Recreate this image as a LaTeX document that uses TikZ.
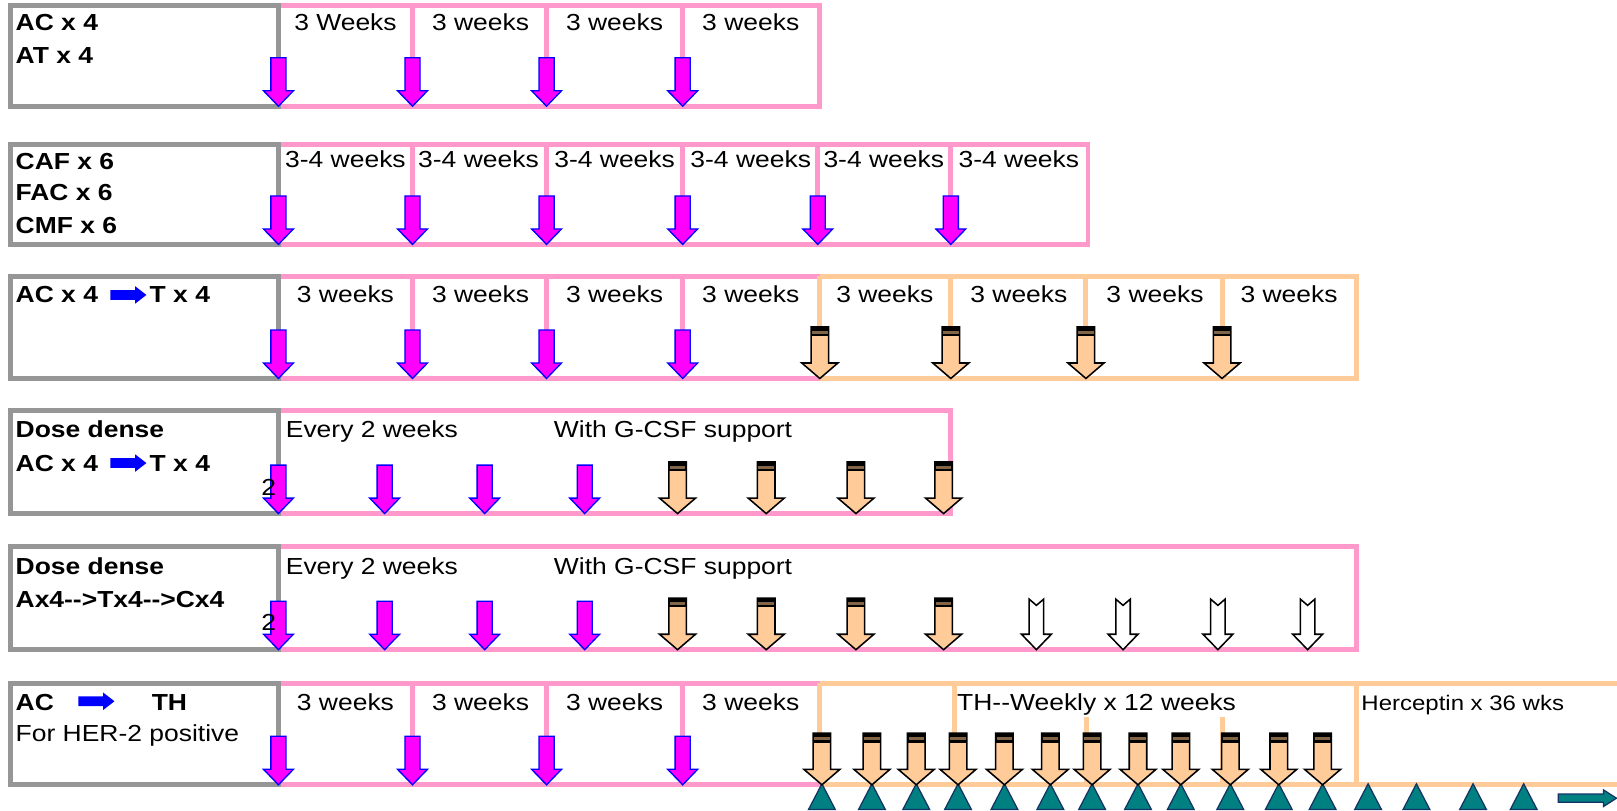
\documentclass[tikz,border=0pt]{standalone}
\usepackage{fontspec}
\setmainfont{Liberation Sans}[FakeStretch=1.14]
\definecolor{pinkc}{RGB}{255,153,204}
\definecolor{grayc}{RGB}{150,150,150}
\definecolor{orangec}{RGB}{255,204,153}
\definecolor{magc}{RGB}{255,0,255}
\definecolor{brownc}{RGB}{130,100,70}
\definecolor{tealc}{RGB}{0,128,128}
\definecolor{navyc}{RGB}{20,50,100}
\tikzset{
  marr/.pic={\draw[fill=magc,draw=blue,line width=1.3pt] (-7.3,-47) -- (7.3,-47) -- (7.3,-15) -- (14.5,-15) -- (0,0) -- (-14.5,-15) -- (-7.3,-15) -- cycle;},
  oarr/.pic={\draw[fill=orangec,draw=black,line width=1.5pt] (-8.5,-50) -- (8.5,-50) -- (8.5,-15) -- (17.5,-15) -- (0,0) -- (-17.5,-15) -- (-8.5,-15) -- cycle;
    \fill[black] (-8.5,-50) rectangle (8.5,-41);
    \fill[brownc] (-7.5,-46) rectangle (7.5,-43.5);},
  warr/.pic={\draw[fill=white,draw=black,line width=1.5pt] (-7,-49) -- (0,-43) -- (7,-49) -- (7,-15) -- (14.5,-15) -- (0,0) -- (-14.5,-15) -- (-7,-15) -- cycle;},
  tri/.pic={\draw[fill=tealc,draw=navyc,line width=1.2pt] (0,0) -- (13,25) -- (-13,25) -- cycle;},
  barr/.pic={\fill[blue] (0,-4.7) -- (24,-4.7) -- (24,-8.5) -- (35,0) -- (24,8.5) -- (24,4.7) -- (0,4.7) -- cycle;},
}
\begin{document}
\begin{tikzpicture}[x=1pt,y=-1pt,
  gbox/.style={draw=grayc,line width=4.8pt},
  pline/.style={draw=pinkc,line width=4.8pt},
  oline/.style={draw=orangec,line width=4.8pt},
  lbl/.style={inner sep=0pt,font=\fontsize{22.5}{27}\selectfont},
  blbl/.style={inner sep=0pt,font=\fontsize{22.5}{27}\selectfont\bfseries},
  slbl/.style={inner sep=0pt,font=\fontsize{20.4}{24}\selectfont},
]
\useasboundingbox (0,0) rectangle (1568,785.5);
\fill[white] (0,0) rectangle (1568,785.5);

% ---------- Row 1
\draw[pline] (270,5.6) -- (795,5.6) -- (795,103) -- (270,103);
\draw[gbox] (10,5.6) rectangle (270,103);
\foreach \x in {400,530,662} \draw[pline] (\x,5.6) -- (\x,57);
\foreach \x in {270,400,530,662} \pic at (\x,103) {marr};
\node[blbl,anchor=base west] (r1a) at (15,30) {AC x 4};
\node[blbl,anchor=base west] (r1b) at (15,61.5) {AT x 4};
\node[lbl,anchor=base] (r1w1) at (335,30) {3 Weeks};
\node[lbl,anchor=base] (r1w2) at (466,30) {3 weeks};
\node[lbl,anchor=base] (r1w3) at (596,30) {3 weeks};
\node[lbl,anchor=base] (r1w4) at (728,30) {3 weeks};

% ---------- Row 2
\draw[pline] (270,140) -- (1055,140) -- (1055,237) -- (270,237);
\draw[gbox] (10,140) rectangle (270,237);
\foreach \x in {400,530,662,793,922} \draw[pline] (\x,140) -- (\x,190);
\foreach \x in {270,400,530,662,793,922} \pic at (\x,237) {marr};
\node[blbl,anchor=base west] (r2a) at (15,164) {CAF x 6};
\node[blbl,anchor=base west] (r2b) at (15,194) {FAC x 6};
\node[blbl,anchor=base west] (r2c) at (15,226) {CMF x 6};
\foreach \x/\n in {335/1,464/2,596/3,728/4,857/5,988/6}
  \node[lbl,anchor=base] (r2w\n) at (\x,162.5) {3-4 weeks};

% ---------- Row 3
\draw[pline] (270,268) -- (795,268);
\draw[pline] (270,367) -- (795,367);
\draw[oline] (795,268) -- (1315,268) -- (1315,367) -- (795,367);
\draw[gbox] (10,268) rectangle (270,367);
\foreach \x in {400,530,662} \draw[pline] (\x,268) -- (\x,320);
\foreach \x in {795,922,1053,1185} \draw[oline] (\x,268) -- (\x,318);
\foreach \x in {270,400,530,662} \pic at (\x,367) {marr};
\foreach \x in {795,922,1053,1185} \pic at (\x,367) {oarr};
\node[blbl,anchor=base west] (r3a) at (15,293) {AC x 4};
\pic at (107,286) {barr};
\node[blbl,anchor=base west] (r3b) at (145,293) {T x 4};
\foreach \x/\n in {335/1,466/2,596/3,728/4,858/5,988/6,1120/7,1250/8}
  \node[lbl,anchor=base] (r3w\n) at (\x,293.5) {3 weeks};

% ---------- Row 4
\draw[pline] (270,398) -- (922,398) -- (922,498) -- (270,498);
\draw[gbox] (10,398) rectangle (270,498);
\foreach \x in {270,373,470,567} \pic at (\x,498) {marr};
\foreach \x in {657,743,830,915} \pic at (\x,498) {oarr};
\node[blbl,anchor=base west] (r4a) at (15,424) {Dose dense};
\node[blbl,anchor=base west] (r4b) at (15,457) {AC x 4};
\pic at (107,449) {barr};
\node[blbl,anchor=base west] (r4c) at (145,457) {T x 4};
\node[lbl,anchor=base west] (r4e) at (277,424) {Every 2 weeks};
\node[lbl,anchor=base west] (r4g) at (537,424) {With G-CSF support};
\node[lbl,anchor=base east] (r4n) at (268,480) {2};

% ---------- Row 5
\draw[pline] (270,530) -- (1315,530) -- (1315,630) -- (270,630);
\draw[gbox] (10,530) rectangle (270,630);
\foreach \x in {270,373,470,567} \pic at (\x,630) {marr};
\foreach \x in {657,743,830,915} \pic at (\x,630) {oarr};
\foreach \x in {1005,1089,1181,1268} \pic at (\x,630) {warr};
\node[blbl,anchor=base west] (r5a) at (15,557) {Dose dense};
\node[blbl,anchor=base west] (r5b) at (15,589) {Ax4-{}->Tx4-{}->Cx4};
\node[lbl,anchor=base west] (r5e) at (277,557) {Every 2 weeks};
\node[lbl,anchor=base west] (r5g) at (537,557) {With G-CSF support};
\node[lbl,anchor=base east] (r5n) at (268,611) {2};

% ---------- Row 6
\draw[pline] (270,662.5) -- (795,662.5);
\draw[pline] (270,761) -- (795,761);
\draw[oline] (795,662.5) -- (1570,662.5);
\draw[oline] (795,761) -- (1570,761);
\draw[gbox] (10,662.5) rectangle (270,761);
\foreach \x in {400,530,662} \draw[pline] (\x,662.5) -- (\x,714);
\foreach \x in {795,926} \draw[oline] (\x,662.5) -- (\x,712);
\foreach \x in {1054,1185} \draw[oline] (\x,695) -- (\x,761);
\draw[oline] (1315,662.5) -- (1315,761);
\foreach \x in {797,845.5,888.5,929,974,1018.5,1059,1103.5,1145,1193,1240,1282.5,1326.6,1373.5,1428.4,1477.5}
  \pic at (\x,760) {tri};
\foreach \x in {270,400,530,662} \pic at (\x,761) {marr};
\foreach \x in {797,845.5,888.5,929,974,1018.5,1059,1103.5,1145,1193,1240,1282.5}
  \pic at (\x,761) {oarr};
\draw[fill=tealc,draw=navyc,line width=1.2pt] (1511,770) -- (1555,770) -- (1555,766) -- (1567.5,774) -- (1555,782) -- (1555,778) -- (1511,778) -- cycle;
\node[blbl,anchor=base west] (r6a) at (15,689) {AC};
\pic at (76,680) {barr};
\node[blbl,anchor=base west] (r6b) at (147,689) {TH};
\node[lbl,anchor=base west] (r6c) at (15,719) {For HER-2 positive};
\foreach \x/\n in {335/1,466/2,596/3,728/4}
  \node[lbl,anchor=base] (r6w\n) at (\x,689) {3 weeks};
\node[lbl,anchor=base west] (r6t) at (928,689) {TH-{}-Weekly x 12 weeks};
\node[slbl,anchor=base west] (r6h) at (1320,689) {Herceptin x 36 wks};
\end{tikzpicture}
\end{document}
